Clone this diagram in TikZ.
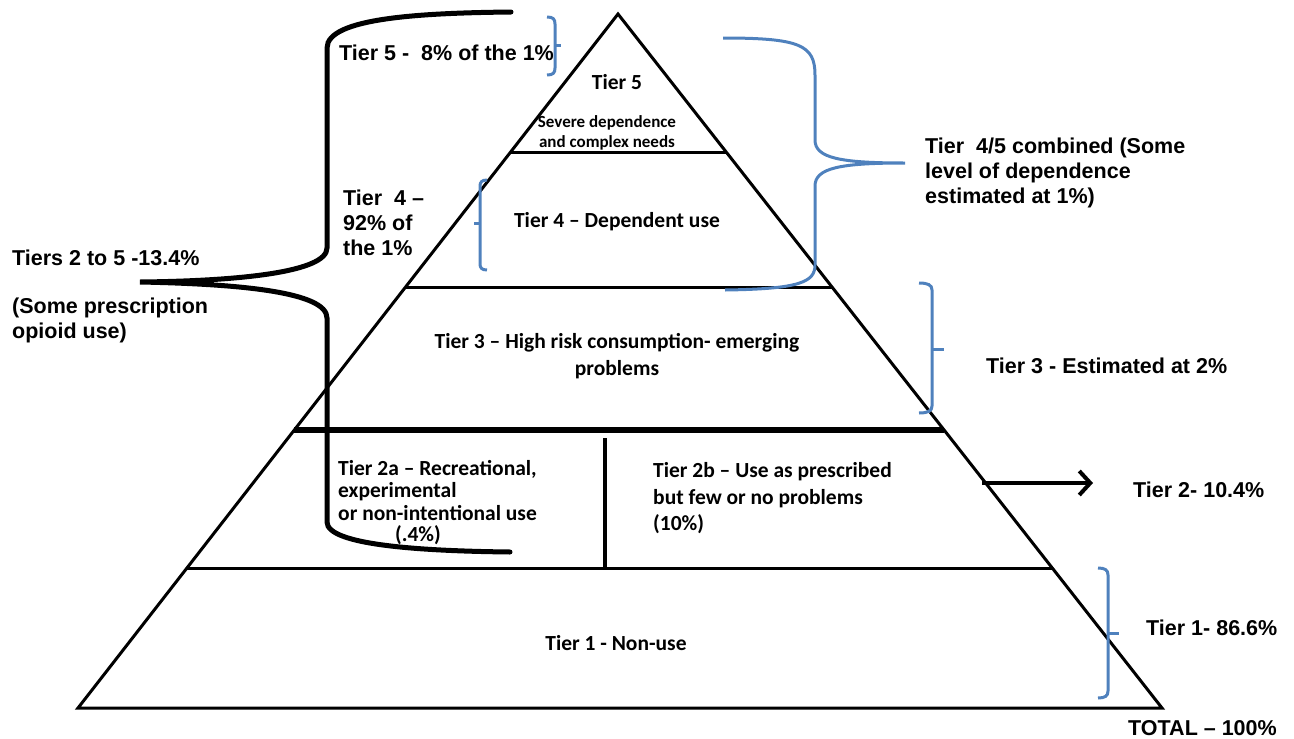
\documentclass[tikz,border=0pt]{standalone}
\usepackage{fontspec}
\setmainfont{Liberation Sans}
\newfontfamily\calfont{Carlito}
\usetikzlibrary{calc,arrows.meta}
\definecolor{bracketblue}{RGB}{79,129,189}
\begin{document}
\begin{tikzpicture}[x=1pt,y=-1pt,
  outline/.style={line width=3pt, line join=miter},
  heavyline/.style={line width=6pt},
  blackbrace/.style={line width=5pt, line cap=round},
  bluebrace/.style={draw=bracketblue, line width=3pt},
  outer/.style={font=\fontsize{21.5}{25}\selectfont\bfseries, inner sep=0pt, align=left, anchor=west},
  inner/.style={font=\calfont\fontsize{21.5}{26.5}\selectfont\bfseries, inner sep=0pt, align=center},
  innerleft/.style={inner, align=left, anchor=west},
]
\useasboundingbox (0,0) rectangle (1294,739);

% ---------- pyramid corners and tier boundaries ----------
\coordinate (apex) at (618,14);
\coordinate (bl) at (78,708);
\coordinate (br) at (1162,708);
\foreach \n/\f in {a/0.19885, b/0.39481, c/0.59942, d/0.79827} {
  \coordinate (L\n) at ($(apex)!\f!(bl)$);
  \coordinate (R\n) at ($(apex)!\f!(br)$);
}

% ---------- labels inside the pyramid ----------
\node[inner] (t5) at (617,82) {Tier 5};
\node[inner, font=\calfont\fontsize{17}{20}\selectfont\bfseries] (t5d) at (607,133) {Severe dependence\\and complex needs};
\node[inner] (t4) at (617,222) {Tier 4 – Dependent use};
\node[inner] (t3) at (617,356) {Tier 3 – High risk consumption- emerging\\problems};
\node[innerleft, font=\calfont\fontsize{21.5}{22.5}\selectfont\bfseries] (t2a) at (338,490.5) {Tier 2a – Recreational,\\experimental\\or non-intentional use};
\node[inner] (t2apc) at (418,535.5) {(.4\%)};
\node[innerleft] (t2b) at (653,498.5) {Tier 2b – Use as prescribed\\but few or no problems\\(10\%)};
\node[inner] (t1) at (616,643) {Tier 1 - Non-use};

% ---------- pyramid outline ----------
\draw[outline] (apex) -- (bl) -- (br) -- cycle;
\draw[outline] (La) -- (Ra);
\draw[outline] (Lb) -- (Rb);
\draw[heavyline] (Lc) -- (Rc);
\draw[outline] (Ld) -- (Rd);
\coordinate (dtop) at (605,438);
\coordinate (dbot) at (605,569);
\draw[line width=3.5pt] (dtop) -- (dbot);

% ---------- labels outside the pyramid ----------
\node[outer] (l5) at (339,53) {Tier 5 -~~8\% of the 1\%};
\node[outer] (l4) at (343,223) {Tier~~4 –\\92\% of\\the 1\%};
\node[outer] (l25) at (12,258) {Tiers 2 to 5 -13.4\%};
\node[outer] (l25b) at (12,320.5) {(Some prescription\\opioid use)};
\node[outer] (r45) at (925,173) {Tier~~4/5 combined (Some\\level of dependence\\estimated at 1\%)};
\node[outer] (r3) at (986,366) {Tier 3 - Estimated at 2\%};
\node[outer] (r2) at (1133,490) {Tier 2- 10.4\%};
\node[outer] (r1) at (1146,628) {Tier 1- 86.6\%};
\node[outer] (rt) at (1128,728) {TOTAL – 100\%};

% ---------- Tier 2 arrow ----------
\coordinate (arrstart) at (982,483);
\coordinate (arrend) at (1093,483);
\draw[line width=4pt, -{Straight Barb[length=11pt,width=24pt]}] (arrstart) -- (arrend);

% ---------- black brace: tiers 2 to 5 ----------
\draw[blackbrace] (511,12) .. controls (420,13) and (327,18) .. (327,48)
  -- (327,248) .. controls (327,272) and (240,281) .. (140,282)
  .. controls (240,284) and (327,292) .. (327,318)
  -- (327,522) .. controls (327,545) and (420,551) .. (510,552);

% ---------- blue brackets ----------
% tier 5
\draw[bluebrace] (547,17) .. controls (553,17) and (555,19) .. (555,24) -- (555,68)
  .. controls (555,73) and (553,75) .. (547,75);
\draw[bluebrace] (555,45) -- (561,45);
% tier 4
\draw[bluebrace] (487,180) .. controls (482,180) and (480,182) .. (480,186) -- (480,264)
  .. controls (480,268) and (482,270) .. (487,270);
\draw[bluebrace] (480,223) -- (474,223);
% tiers 4 and 5 combined
\draw[bluebrace] (723,38) .. controls (800,38) and (815,45) .. (815,75) -- (815,140)
  .. controls (815,158) and (840,163) .. (905,163)
  .. controls (840,163) and (815,168) .. (815,186) -- (815,265)
  .. controls (815,282) and (800,289) .. (725,290);
% tier 3
\draw[bluebrace] (919,283) .. controls (928,283) and (932,285) .. (932,290) -- (932,406)
  .. controls (932,411) and (928,413) .. (919,413);
\draw[bluebrace] (932,349) -- (944,349);
% tier 1
\draw[bluebrace] (1098,568) .. controls (1105,568) and (1108,570) .. (1108,575) -- (1108,691)
  .. controls (1108,696) and (1105,698) .. (1098,698);
\draw[bluebrace] (1108,633) -- (1119,633);
\end{tikzpicture}
\end{document}
